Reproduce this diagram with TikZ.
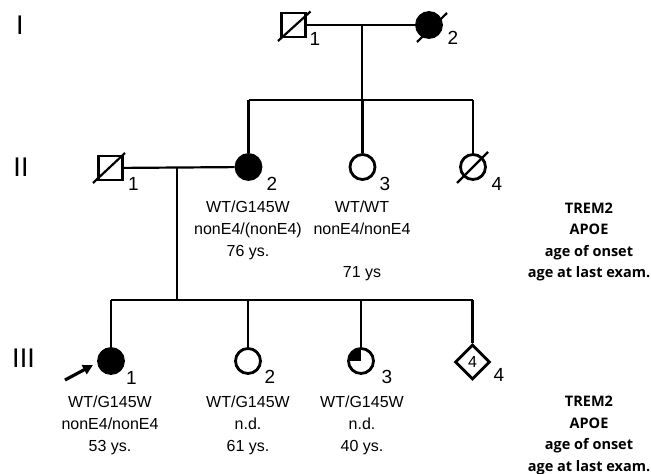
\documentclass[tikz,border=0pt]{standalone}
\usepackage{fontspec}
\setmainfont{Liberation Sans}
\newfontfamily\legendfont{Open Sans}
\usetikzlibrary{shapes.geometric,arrows.meta,calc}
\begin{document}
\begin{tikzpicture}[x=1pt,y=-1pt,
  ind/.style={draw, line width=2.8pt, inner sep=0pt},
  male/.style={ind, rectangle, minimum size=24pt},
  female/.style={ind, circle, minimum size=25pt},
  unk/.style={ind, diamond, minimum size=35pt, font=\fontsize{16}{16}\selectfont},
  aff/.style={fill=black},
  link/.style={line width=2.2pt},
  dec/.style={line width=2.2pt},
  num/.style={inner sep=0pt, font=\fontsize{19}{19}\selectfont},
  gen/.style={inner sep=0pt, font=\fontsize{27}{27}\selectfont},
  info/.style={anchor=north, inner sep=0pt, align=center, font=\fontsize{16}{21.7}\selectfont},
  legend/.style={anchor=north, inner sep=0pt, align=center, font=\legendfont\bfseries\fontsize{14.5}{21.5}\selectfont}
]
\useasboundingbox (0,0) rectangle (651,474);

% generation labels
\node[gen] (gI) at (20,25) {I};
\node[gen] (gII) at (21,167) {II};
\node[gen] (gIII) at (23.5,358) {III};

% generation I
\node[male] (I1) at (293.5,25) {};
\node[female, aff] (I2) at (429,25) {};
\draw[dec] ($(I1.center)+(-15.5,16)$) -- ($(I1.center)+(17,-13.5)$);
\draw[dec] ($(I2.center)+(-12,17)$) -- ($(I2.center)+(18,-12)$);
\node[num] (nI1) at (315,38.5) {1};
\node[num] (nI2) at (453,37.5) {2};
\coordinate (mI) at (362,25);
\coordinate (sII) at (362,100);
\draw[link] (I1) -- (I2);
\draw[link] (mI) -- (sII);

% generation II
\node[male] (II1) at (110.5,168) {};
\node[female, aff] (II2) at (248.5,167) {};
\node[female] (II3) at (362.5,167) {};
\node[female] (II4) at (473,167) {};
\draw[dec] ($(II1.center)+(-17.5,15)$) -- ($(II1.center)+(14.5,-15)$);
\draw[dec] ($(II4.center)+(-16,16)$) -- ($(II4.center)+(15,-15)$);
\node[num] (nII1) at (133.5,184) {1};
\node[num] (nII2) at (272,184) {2};
\node[num] (nII3) at (385,184) {3};
\node[num] (nII4) at (497,184) {4};
\coordinate (sIIl) at (248.5,100);
\coordinate (sIIr) at (473,100);
\draw[link] (sIIl) -- (sIIr);
\draw[link] (sIIl) -- (II2);
\draw[link] (sII -| II3) -- (II3);
\draw[link] (sIIr) -- (II4);
\draw[link] (II1) -- (II2);
\coordinate (mII) at (177,168);
\coordinate (sIII) at (177,300);
\draw[link] (mII) -- (sIII);

\node[info] (tII2) at (248,201) {WT/G145W\\nonE4/(nonE4)\\76 ys.};
\node[info] (tII3) at (362,201) {WT/WT\\nonE4/nonE4\\\mbox{}\\71 ys};
\node[legend] (lII) at (589,202.5) {TREM2\\APOE\\age of onset\\age at last exam.};

% generation III
\node[female, aff] (III1) at (111,361) {};
\node[female, path picture={\fill (path picture bounding box.center) rectangle (path picture bounding box.north west);}] (III2q) at (361,361) {};
\node[female] (III2) at (248,361) {};
\node[unk] (III4) at (472.5,362) {4};
\node[num] (nIII1) at (131.5,377.5) {1};
\node[num] (nIII2) at (270,376.5) {2};
\node[num] (nIII3) at (387,376.5) {3};
\node[num] (nIII4) at (499,375) {4};
\coordinate (sIIIl) at (111,300);
\coordinate (sIIIr) at (472.5,300);
\draw[link] (sIIIl) -- (sIIIr);
\draw[link] (sIIIl) -- (III1);
\draw[link] (sIIIl -| III2) -- (III2);
\draw[link] (sIIIl -| III2q) -- (III2q);
\draw[link] (sIIIr) -- (III4);

\coordinate (arT) at (65,380);
\coordinate (arH) at (93,365);
\draw[line width=3.2pt, -{Triangle[length=10pt,width=10pt]}] (arT) -- (arH);

\node[info] (tIII1) at (110,396) {WT/G145W\\nonE4/nonE4\\53 ys.};
\node[info] (tIII2) at (248,396) {WT/G145W\\n.d.\\61 ys.};
\node[info] (tIII3) at (362,396) {WT/G145W\\n.d.\\40 ys.};
\node[legend] (lIII) at (589,396) {TREM2\\APOE\\age of onset\\age at last exam.};
\end{tikzpicture}
\end{document}
